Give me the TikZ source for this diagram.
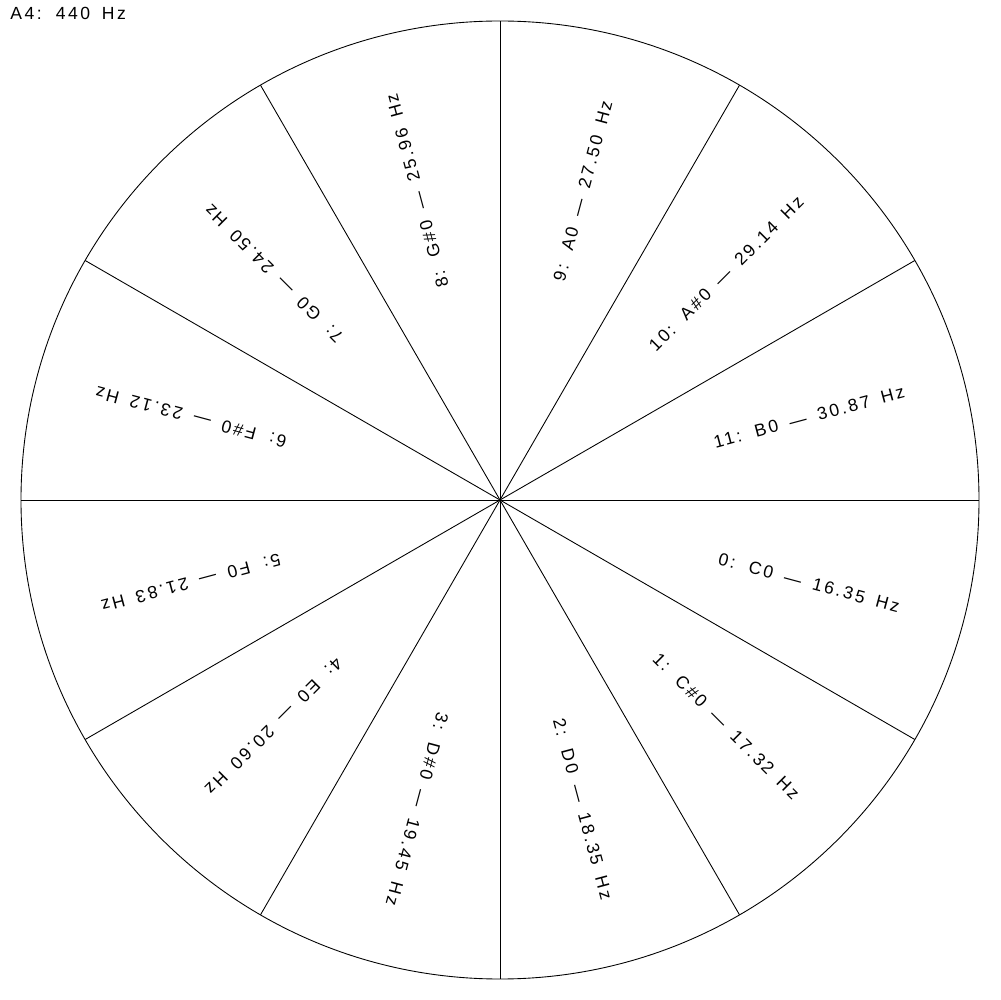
\documentclass[tikz,border=0pt]{standalone}
\usepackage{fontspec}
\newfontfamily\cadfont[LetterSpace=14, WordSpace=1.6]{Liberation Sans}
\usetikzlibrary{calc, positioning}

\begin{document}
\begin{tikzpicture}[x=0.02cm, y=0.02cm, line width=0.5pt,
  notelabel/.style={font=\cadfont\fontsize{10}{12}\selectfont, inner sep=0pt}]
\def\rad{479}
\def\labrad{320}
\useasboundingbox (-500,-500) rectangle (500,500);

\coordinate (O) at (0,0);
\coordinate (S0) at (0:\rad);
\coordinate (S1) at (30:\rad);
\coordinate (S2) at (60:\rad);
\coordinate (S3) at (90:\rad);
\coordinate (S4) at (120:\rad);
\coordinate (S5) at (150:\rad);
\coordinate (S6) at (180:\rad);
\coordinate (S7) at (210:\rad);
\coordinate (S8) at (240:\rad);
\coordinate (S9) at (270:\rad);
\coordinate (S10) at (300:\rad);
\coordinate (S11) at (330:\rad);

\draw (O) circle (\rad);
\draw (O) -- (S0);
\draw (O) -- (S1);
\draw (O) -- (S2);
\draw (O) -- (S3);
\draw (O) -- (S4);
\draw (O) -- (S5);
\draw (O) -- (S6);
\draw (O) -- (S7);
\draw (O) -- (S8);
\draw (O) -- (S9);
\draw (O) -- (S10);
\draw (O) -- (S11);

\node[notelabel, rotate=-15] (C0) at (-15:\labrad) {0: C0 — 16.35 Hz};
\node[notelabel, rotate=-45] (Cs0) at (-45:\labrad) {1: C\#0 — 17.32 Hz};
\node[notelabel, rotate=-75] (D0) at (-75:\labrad) {2: D0 — 18.35 Hz};
\node[notelabel, rotate=-105] (Ds0) at (-105:\labrad) {3: D\#0 — 19.45 Hz};
\node[notelabel, rotate=-135] (E0) at (-135:\labrad) {4: E0 — 20.60 Hz};
\node[notelabel, rotate=-165] (F0) at (-165:\labrad) {5: F0 — 21.83 Hz};
\node[notelabel, rotate=165] (Fs0) at (165:\labrad) {6: F\#0 — 23.12 Hz};
\node[notelabel, rotate=135] (G0) at (135:\labrad) {7: G0 — 24.50 Hz};
\node[notelabel, rotate=105] (Gs0) at (105:\labrad) {8: G\#0 — 25.96 Hz};
\node[notelabel, rotate=75] (A0) at (75:\labrad) {9: A0 — 27.50 Hz};
\node[notelabel, rotate=45] (As0) at (45:\labrad) {10: A\#0 — 29.14 Hz};
\node[notelabel, rotate=15] (B0) at (15:\labrad) {11: B0 — 30.87 Hz};

\node[notelabel, anchor=base west] (ref) at (-490,480) {A4: 440 Hz};
\end{tikzpicture}
\end{document}
